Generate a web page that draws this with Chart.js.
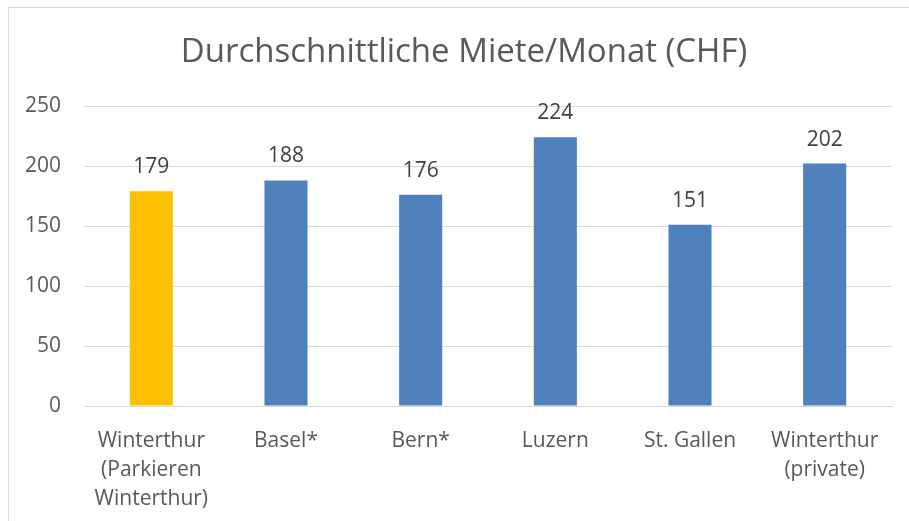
<!DOCTYPE html>
<html>
<head>
<meta charset="utf-8">
<script src="https://cdn.jsdelivr.net/npm/chart.js@4"></script>
<style>
  html, body { margin: 0; padding: 0; background: #fff; overflow: hidden; }
  #wrap { position: relative; width: 909px; height: 521px; }
  #frame { position: absolute; left: 8px; top: 7px; width: 1200px; height: 1200px; border: 1px solid #d9d9d9; box-sizing: border-box; }
  canvas { position: absolute; left: 0; top: 0; }
</style>
</head>
<body>
<div id="wrap">
  <div id="frame"></div>
  <canvas id="chart" width="909" height="521"></canvas>
</div>
<script>
// chart data
const cities = [
    ['Winterthur', '(Parkieren', 'Winterthur)'],
    'Basel*',
    'Bern*',
    'Luzern',
    'St. Gallen',
    ['Winterthur', '(private)']
];
const rentValues = [179, 188, 176, 224, 151, 202];
const barColors = ['#FFC000', '#4F81BD', '#4F81BD', '#4F81BD', '#4F81BD', '#4F81BD'];
const yTicks = [0, 50, 100, 150, 200, 250];
const chartTitle = 'Durchschnittliche Miete/Monat (CHF)';

const textColor = '#595959';
const fontFamily = "'Open Sans', sans-serif";

// title is centred on the outer frame, not on the canvas, so draw it ourselves
const frameTitle = {
    id: 'frameTitle',
    afterDraw(chart) {
        const ctx = chart.ctx;
        ctx.save();
        ctx.font = `33px ${fontFamily}`;
        ctx.fillStyle = textColor;
        ctx.textAlign = 'center';
        ctx.textBaseline = 'middle';
        ctx.fillText(chartTitle, 464, 53);
        ctx.restore();
    }
};

// draws the value above each bar
const valueLabels = {
    id: 'valueLabels',
    afterDatasetsDraw(chart) {
        const ctx = chart.ctx;
        const meta = chart.getDatasetMeta(0);
        ctx.save();
        ctx.font = `21px ${fontFamily}`;
        ctx.fillStyle = '#404040';
        ctx.textAlign = 'center';
        ctx.textBaseline = 'middle';
        meta.data.forEach((bar, i) => {
            ctx.fillText(String(rentValues[i]), bar.x, bar.y - 24);
        });
        ctx.restore();
    }
};

new Chart(document.getElementById('chart'), {
    type: 'bar',
    data: {
        labels: cities,
        datasets: [{
            data: rentValues,
            backgroundColor: barColors,
            categoryPercentage: 1,
            barPercentage: 0.32
        }]
    },
    options: {
        responsive: false,
        animation: false,
        layout: { padding: { left: 0, right: 17, top: 106, bottom: 0 } },
        plugins: {
            legend: { display: false },
            tooltip: { enabled: false },
            title: { display: false }
        },
        scales: {
            x: {
                grid: { display: false },
                border: { color: '#d9d9d9' },
                ticks: {
                    color: textColor,
                    font: { family: fontFamily, size: 21, lineHeight: 1.4 },
                    padding: 12,
                    maxRotation: 0,
                    autoSkip: false
                },
                afterFit(scale) { scale.height = 115; }
            },
            y: {
                min: 0,
                max: 250,
                border: { display: false },
                grid: { color: '#d9d9d9', drawTicks: false },
                afterBuildTicks(scale) { scale.ticks = yTicks.map(v => ({ value: v })); },
                ticks: {
                    color: textColor,
                    font: { family: fontFamily, size: 21 },
                    padding: 23
                },
                afterFit(scale) { scale.width = 84; }
            }
        }
    },
    plugins: [valueLabels, frameTitle]
});
</script>
</body>
</html>
